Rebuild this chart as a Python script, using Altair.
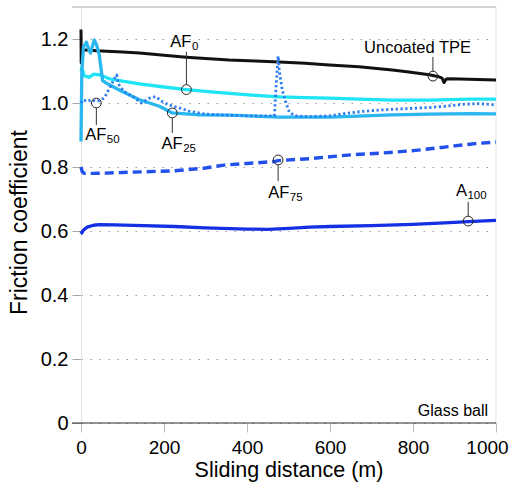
import altair as alt
import pandas as pd

# Friction coefficient vs sliding distance (m), one pair of arrays per coating
tpe_x = [0, 0.5, 3, 10, 37, 100, 141, 200, 254, 300, 357, 420, 478, 540, 598, 670,
         750, 790, 839, 860, 870, 875, 880, 890, 935, 1000]
tpe_y = [1.23, 1.125, 1.16, 1.166, 1.163, 1.159, 1.156, 1.149, 1.143, 1.139, 1.134,
         1.131, 1.128, 1.124, 1.119, 1.113, 1.103, 1.097, 1.088, 1.083, 1.078, 1.064,
         1.075, 1.076, 1.074, 1.072]

af0_x = [0, 2, 8, 20, 30, 45, 70, 100, 141, 200, 254, 300, 357, 420, 478, 540, 598,
         670, 750, 840, 935, 1000]
af0_y = [1.10, 1.11, 1.085, 1.08, 1.09, 1.088, 1.075, 1.068, 1.06, 1.05, 1.042, 1.036,
         1.03, 1.024, 1.019, 1.017, 1.015, 1.012, 1.009, 1.009, 1.012, 1.012]

af25_x = [0, 2, 6, 13, 18, 23, 28, 32, 38, 44, 48, 52, 64, 93, 141, 189, 220, 285,
          357, 478, 600, 750, 840, 935, 1000]
af25_y = [0.88, 1.10, 1.175, 1.19, 1.17, 1.156, 1.18, 1.197, 1.18, 1.15, 1.11, 1.07,
          1.06, 1.04, 1.01, 0.99, 0.969, 0.963, 0.962, 0.956, 0.956, 0.963, 0.965,
          0.967, 0.966]

af50_x = [0, 5, 15, 25, 37, 50, 58, 66, 74, 80, 86, 90, 98, 110, 125, 145, 165, 180,
          195, 212, 236, 260, 300, 350, 400, 466, 470, 475, 478, 485, 494, 502, 515,
          550, 600, 640, 680, 720, 780, 840, 880, 920, 960, 1000]
af50_y = [1.0, 1.01, 1.005, 1.01, 1.005, 1.01, 1.02, 1.04, 1.06, 1.075, 1.088, 1.06,
          1.045, 1.03, 1.02, 1.0, 1.015, 1.02, 1.005, 0.994, 0.985, 0.975, 0.965,
          0.962, 0.96, 0.96, 1.05, 1.147, 1.10, 1.04, 1.0, 0.972, 0.96, 0.957, 0.96,
          0.968, 0.974, 0.978, 0.982, 0.986, 0.99, 0.996, 0.998, 0.994]

af75_x = [0, 3, 8, 30, 60, 100, 150, 225, 300, 345, 400, 466, 475, 550, 600, 650,
          718, 800, 862, 900, 950, 1000]
af75_y = [0.80, 0.785, 0.78, 0.78, 0.781, 0.783, 0.785, 0.788, 0.797, 0.806, 0.811,
          0.817, 0.82, 0.826, 0.832, 0.838, 0.843, 0.851, 0.86, 0.866, 0.873, 0.878]

a100_x = [0, 2, 6, 15, 30, 45, 80, 150, 225, 300, 400, 450, 502, 550, 600, 700, 800,
          900, 933, 1000]
a100_y = [0.60, 0.594, 0.603, 0.612, 0.618, 0.62, 0.619, 0.617, 0.614, 0.61, 0.606,
          0.605, 0.608, 0.612, 0.614, 0.617, 0.621, 0.627, 0.629, 0.633]

# Callouts: marker point, leader span and label (main text + subscript)
ann_main = ["Uncoated TPE", "AF", "AF", "AF", "AF", "A"]
ann_sub = ["", "0", "25", "50", "75", "100"]
ann_px = [848, 254, 220, 37, 475, 933]
ann_py = [1.084, 1.042, 0.969, 1.0, 0.822, 0.631]
lead_from = [1.100, 1.058, 0.953, 0.984, 0.806, 0.647]
lead_to = [1.144, 1.160, 0.906, 0.931, 0.756, 0.691]
label_x = [940, 266, 245, 61, 502, 930]
label_y = [1.157, 1.176, 0.856, 0.884, 0.703, 0.709]

FONT = "Liberation Sans"

xscale = alt.Scale(domain=[0, 1000], nice=False, zero=False)
yscale = alt.Scale(domain=[0, 1.3], nice=False, zero=False)

x_axis = alt.Axis(
    title="Sliding distance (m)", values=[0, 200, 400, 600, 800, 1000], format="d",
    grid=False, domain=False, tickSize=9, tickColor="#bdbdbd", tickWidth=1,
    labelFontSize=19, labelBaseline="alphabetic", labelPadding=21,
    labelFlush=False, labelColor="#000000",
    labelOffset={"condition": {"test": "datum.value == 1000", "value": -9}, "value": 0},
    titleFontSize=21.5, titleFontWeight="normal", titleColor="#000000",
    titleX=207.5, titleY=53, titleBaseline="alphabetic", titleAlign="center",
)
y_axis = alt.Axis(
    title="Friction coefficient", values=[0, 0.2, 0.4, 0.6, 0.8, 1.0, 1.2],
    labelExpr="datum.value == 0 ? '0' : format(datum.value, '.1f')",
    grid=True, gridDash=[1.5, 7.5], gridColor="#a0a0a0", gridWidth=1.2,
    domain=True, domainColor="#e2e2e2", domainWidth=1,
    tickSize=9, tickColor="#a8a8a8", tickWidth=1,
    labelFontSize=20, labelPadding=4, labelColor="#000000",
    titleFontSize=23, titleFontWeight="normal", titleColor="#000000",
    titleX=-55, titleY=215, titleBaseline="alphabetic", titleAlign="center",
    titleAngle=270,
)


def X(field):
    return alt.X(field, type="quantitative", scale=xscale, axis=x_axis)


def Y(field):
    return alt.Y(field, type="quantitative", scale=yscale, axis=y_axis)


series = [
    (tpe_x, tpe_y, "#111111", 3.0, None),
    (af0_x, af0_y, "#1fe4f4", 3.3, None),
    (af25_x, af25_y, "#2ab6ef", 3.3, None),
    (af50_x, af50_y, "#2a7cf0", 2.8, [2.2, 2.6]),
    (af75_x, af75_y, "#2150ea", 3.4, [9, 5]),
    (a100_x, a100_y, "#1430e2", 3.3, None),
]

layers = []

frame = pd.DataFrame({"v": [0]})
# top border, right border
layers.append(alt.Chart(frame).mark_rule(color="#a8a8a8", strokeWidth=1).encode(
    x=alt.value(-9), x2=alt.value(415), y=alt.value(0)))
layers.append(alt.Chart(frame).mark_rule(color="#e6e6e6", strokeWidth=1).encode(
    x=alt.value(415), y=alt.value(0), y2=alt.value(416)))

for xs, ys, color, width, dash in series:
    df = pd.DataFrame({"d": xs, "f": ys})
    kw = dict(color=color, strokeWidth=width, strokeCap="butt", strokeJoin="round")
    if dash:
        kw["strokeDash"] = dash
    layers.append(alt.Chart(df).mark_line(**kw).encode(x=X("d"), y=Y("f")))

# baseline at zero, extended over the y tick
layers.append(alt.Chart(frame).mark_rule(color="#2a2a2a", strokeWidth=1.2).encode(
    x=alt.value(-9), x2=alt.value(415), y=alt.value(416)))

ann = pd.DataFrame({
    "d": ann_px, "f": ann_py, "f0": lead_from, "f1": lead_to,
    "lx": label_x, "ly": label_y, "main": ann_main, "sub": ann_sub,
})

layers.append(alt.Chart(ann).mark_rule(color="#333333", strokeWidth=1).encode(
    x=X("d"), y=Y("f0"), y2=alt.Y2("f1")))
layers.append(alt.Chart(ann).mark_point(
    shape="circle", size=95, filled=False, color="#222222", strokeWidth=1, opacity=1
).encode(x=X("d"), y=Y("f")))
layers.append(alt.Chart(ann).mark_text(
    font=FONT, fontSize=16.5, align="right", baseline="alphabetic", color="#000000"
).encode(x=X("lx"), y=Y("ly"), text="main:N"))
layers.append(alt.Chart(ann).mark_text(
    font=FONT, fontSize=11.5, align="left", baseline="alphabetic", color="#000000",
    dx=0.5, dy=3
).encode(x=X("lx"), y=Y("ly"), text="sub:N"))

glass = pd.DataFrame({"d": [981], "f": [0.022], "t": ["Glass ball"]})
layers.append(alt.Chart(glass).mark_text(
    font=FONT, fontSize=16, align="right", baseline="alphabetic", color="#000000"
).encode(x=X("d"), y=Y("f"), text="t:N"))

chart = alt.layer(*layers).properties(
    width=415, height=416,
    autosize=alt.AutoSizeParams(type="none"),
    padding={"left": 81, "top": 7, "right": 19, "bottom": 71},
    background="white",
).configure_view(stroke=None).configure_axis(
    labelFont=FONT, titleFont=FONT
)

chart.save("out.html", embed_options={"renderer": "svg", "actions": False})
